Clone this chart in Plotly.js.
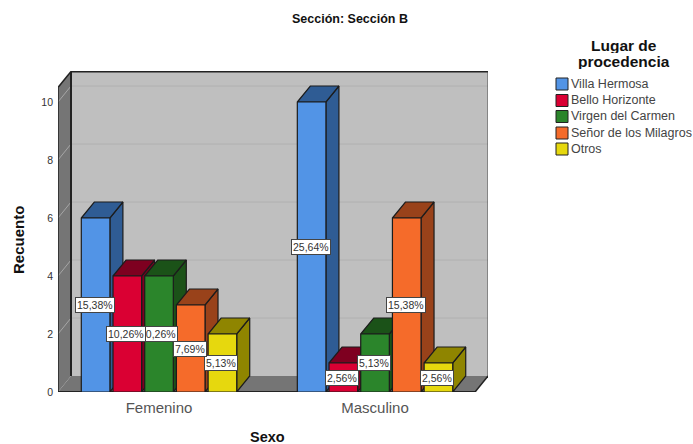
<!DOCTYPE html>
<html>
<head>
<meta charset="utf-8">
<script src="https://cdn.plot.ly/plotly-3.0.1.min.js"></script>
<style>html,body{margin:0;padding:0;background:#fff}#chart{width:693px;height:444px}</style>
</head>
<body>
<div id="chart"></div>
<script>
const categories = ['Femenino', 'Masculino'];
const seriesNames = ['Villa Hermosa', 'Bello Horizonte', 'Virgen del Carmen', 'Señor de los Milagros', 'Otros'];
const villaHermosa = [6, 10];
const belloHorizonte = [4, 1];
const virgenCarmen = [4, 2];
const senorMilagros = [3, 6];
const otros = [2, 1];
const seriesValues = [villaHermosa, belloHorizonte, virgenCarmen, senorMilagros, otros];
const villaLabels = ['15,38%', '25,64%'];
const belloLabels = ['10,26%', '2,56%'];
const virgenLabels = ['10,26%', '5,13%'];
const senorLabels = ['7,69%', '15,38%'];
const otrosLabels = ['5,13%', '2,56%'];
const seriesLabels = [villaLabels, belloLabels, virgenLabels, senorLabels, otrosLabels];
const frontColors = ['#5294E6', '#DA0033', '#2B852B', '#F56B2A', '#E6D80E'];
const sideColors = ['#2F5C94', '#7E0020', '#1B5218', '#99421A', '#8F8500'];
const yTicks = [0, 2, 4, 6, 8, 10];
const legendTitleLines = ['Lugar de', 'procedencia'];

// Geometry in axis units (216 px per category, 29 px per count)
const DX = 13 / 216, DY = 16 / 29;
const SLOT = 31.7 / 216, BAR = 28.6 / 216;
const X_LEFT = -0.4676, X_RIGHT = 1.463, Y_TOP = 10.5;
const EDGE = '#1c1c1c';

const poly = (pts) => 'M' + pts.map(p => p[0] + ',' + p[1]).join(' L') + ' Z';
const wall = (pts, fill) => ({type: 'path', xref: 'x', yref: 'y', layer: 'below', path: poly(pts), fillcolor: fill, line: {width: 0}});
const seg = (x0, y0, x1, y1, color, width) => ({type: 'line', xref: 'x', yref: 'y', layer: 'below', x0, y0, x1, y1, line: {color, width}});

const shapes = [
  wall([[X_LEFT + DX, DY], [X_RIGHT + DX, DY], [X_RIGHT + DX, Y_TOP + DY], [X_LEFT + DX, Y_TOP + DY]], '#BFBFBF'),
  wall([[X_LEFT, 0], [X_LEFT + DX, DY], [X_LEFT + DX, Y_TOP + DY], [X_LEFT, Y_TOP]], '#757575'),
  wall([[X_LEFT, 0], [X_RIGHT, 0], [X_RIGHT + DX, DY], [X_LEFT + DX, DY]], '#757575')
];
yTicks.slice(1).forEach(v => {
  shapes.push(seg(X_LEFT + DX, v + DY, X_RIGHT + DX, v + DY, '#B0B0B0', 1));
  shapes.push(seg(X_LEFT, v, X_LEFT + DX, v + DY, '#A6A6A6', 1));
});
shapes.push(
  seg(X_LEFT + DX, Y_TOP + DY, X_RIGHT + DX, Y_TOP + DY, '#222', 2),
  seg(X_LEFT + DX, DY, X_LEFT + DX, Y_TOP + DY, '#222', 2),
  seg(X_LEFT, Y_TOP, X_LEFT + DX, Y_TOP + DY, '#222', 1.5),
  seg(X_LEFT, 0, X_LEFT, Y_TOP, '#222', 1.5),
  seg(X_RIGHT + DX, DY, X_RIGHT + DX, Y_TOP + DY, '#444', 1),
  seg(X_RIGHT, 0, X_RIGHT + DX, DY, '#222', 1.5),
  seg(X_LEFT, 0, X_RIGHT, 0, '#222', 2)
);

const face = (pts, fill) => ({
  type: 'scatter', mode: 'lines', fill: 'toself', fillcolor: fill,
  x: pts.map(p => p[0]).concat(pts[0][0]), y: pts.map(p => p[1]).concat(pts[0][1]),
  line: {color: EDGE, width: 1.2}, showlegend: false, hoverinfo: 'skip', cliponaxis: false
});

const traces = [];
const annotations = [];
categories.forEach((cat, c) => {
  seriesValues.forEach((vals, s) => {
    const x0 = c + (s - 2) * SLOT - BAR / 2, x1 = x0 + BAR, v = vals[c];
    traces.push(face([[x1, 0], [x1 + DX, DY], [x1 + DX, v + DY], [x1, v]], sideColors[s]));
    traces.push(face([[x0, v], [x1, v], [x1 + DX, v + DY], [x0 + DX, v + DY]], sideColors[s]));
    traces.push(face([[x0, 0], [x1, 0], [x1, v], [x0, v]], frontColors[s]));
  });
  for (let s = seriesValues.length - 1; s >= 0; s--) {
    annotations.push({
      xref: 'x', yref: 'y', x: c + (s - 2) * SLOT - 1 / 216, y: seriesValues[s][c] / 2,
      xanchor: 'center', yanchor: 'middle',
      text: seriesLabels[s][c], showarrow: false, bgcolor: '#fff', bordercolor: '#444', borderwidth: 1, borderpad: 1,
      font: {family: 'Liberation Sans', size: 10.5, color: '#333'}
    });
  }
});

// Legend block and axis titles (paper positions)
const P = 430, L = 58, T = 71, H = 321;
const px = (x) => (x - L) / P, py = (y) => 1 - (y - T) / H;
legendTitleLines.forEach((line, i) => {
  annotations.push({xref: 'paper', yref: 'paper', x: px(624), y: py(45 + i * 16), xanchor: 'center', yanchor: 'middle', text: '<b>' + line + '</b>', showarrow: false,
    font: {family: 'Liberation Sans', size: 15.5, color: '#111'}, borderpad: 0, height: 15});
});
annotations.push({xref: 'paper', yref: 'paper', x: px(267), y: py(436.5), xanchor: 'center', yanchor: 'middle', text: '<b>Sexo</b>', showarrow: false,
  font: {family: 'Liberation Sans', size: 14.5, color: '#111'}, borderpad: 0});
annotations.push({xref: 'paper', yref: 'paper', x: px(19), y: py(240), xanchor: 'center', yanchor: 'middle', text: '<b>Recuento</b>', showarrow: false, textangle: -90,
  font: {family: 'Liberation Sans', size: 15, color: '#111'}});
const rowsY = [84, 100.5, 116.5, 133, 149];
seriesNames.forEach((name, s) => {
  shapes.push({type: 'rect', xref: 'paper', yref: 'paper', x0: px(556), x1: px(568), y0: py(rowsY[s] + 6), y1: py(rowsY[s] - 6),
    fillcolor: frontColors[s], line: {color: '#222', width: 1}});
  annotations.push({xref: 'paper', yref: 'paper', x: px(570), y: py(rowsY[s]), xanchor: 'left', yanchor: 'middle', text: name, showarrow: false,
    font: {family: 'Liberation Sans', size: 12.5, color: '#444'}, borderpad: 0});
});

const layout = {
  width: 693, height: 444, autosize: false, showlegend: false,
  margin: {l: L, r: 205, t: T, b: 52, pad: 0},
  paper_bgcolor: '#fff', plot_bgcolor: 'rgba(0,0,0,0)',
  font: {family: 'Liberation Sans', color: '#333'},
  title: {text: '<b>Sección: Sección B</b>', x: 350 / 693, xanchor: 'center', xref: 'container', y: 1 - 19 / 444, yanchor: 'middle', yref: 'container',
    font: {family: 'Liberation Sans', size: 12.5, color: '#111'}},
  xaxis: {range: [-0.4676, 1.523], tickmode: 'array', tickvals: [0, 1], ticktext: categories, showgrid: false, zeroline: false, showline: false, ticks: '',
    ticklabelstandoff: 5,
    tickfont: {family: 'Liberation Sans', size: 15, color: '#555'}},
  yaxis: {range: [0, 11.069], tickmode: 'array', tickvals: yTicks, showgrid: false, zeroline: false, showline: false, ticks: '',
    ticklabelstandoff: 4,
    tickfont: {family: 'Liberation Sans', size: 10.5, color: '#333'}},
  shapes, annotations
};
Plotly.newPlot('chart', traces, layout, {displayModeBar: false, staticPlot: true});
</script>
</body>
</html>
